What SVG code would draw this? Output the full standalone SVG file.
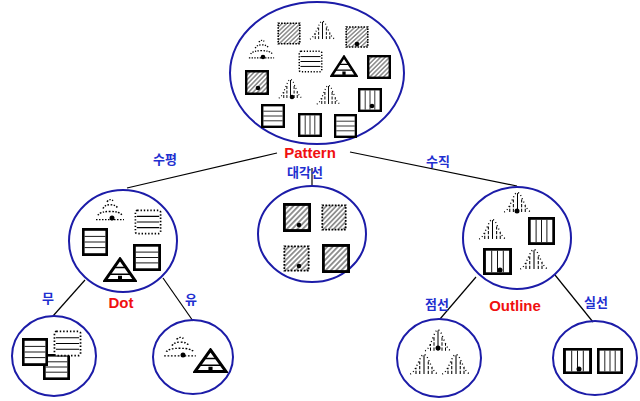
<svg xmlns="http://www.w3.org/2000/svg" xmlns:xlink="http://www.w3.org/1999/xlink" width="640" height="401" viewBox="0 0 640 401">
<style>
.node{fill:none;stroke:#1c1ca8;stroke-width:2}
.conn line{stroke:#000;stroke-width:1.2}
.lat{font-family:"Liberation Sans",Arial,sans-serif;font-weight:bold;font-size:15px;fill:#f01010;text-anchor:middle}
.kor{font-family:"Noto Sans CJK KR","Noto Sans",sans-serif;font-weight:bold;font-size:13px;fill:#1f2fd0;text-anchor:middle}
.dot{fill:#000}
</style>
<defs>
<pattern id="hatch" width="4" height="4" patternUnits="userSpaceOnUse" patternTransform="rotate(45)">
<line x1="2" y1="0" x2="2" y2="4" stroke="#333" stroke-width="1.1"/>
</pattern>
<symbol id="sqH" viewBox="0 0 30 30" preserveAspectRatio="none">
<rect x="1.5" y="1.5" width="27" height="27" fill="#fff" stroke="#000" stroke-width="3"/>
<path d="M3 9H27M3 15H27M3 21H27" stroke="#000" stroke-width="1"/>
</symbol>
<symbol id="sqV" viewBox="0 0 30 30" preserveAspectRatio="none">
<rect x="1.5" y="1.5" width="27" height="27" fill="#fff" stroke="#000" stroke-width="3"/>
<path d="M9 3V27M15 3V27M21 3V27" stroke="#000" stroke-width="1"/>
</symbol>
<symbol id="sqHatch" viewBox="0 0 30 30" preserveAspectRatio="none">
<rect x="1.5" y="1.5" width="27" height="27" fill="#fff"/>
<rect x="1.5" y="1.5" width="27" height="27" fill="url(#hatch)" stroke="#000" stroke-width="3"/>
</symbol>
<symbol id="dsqHatch" viewBox="0 0 30 30" preserveAspectRatio="none">
<rect x="1.5" y="1.5" width="27" height="27" fill="#fff"/>
<rect x="1.5" y="1.5" width="27" height="27" fill="url(#hatch)" stroke="#000" stroke-width="2" stroke-dasharray="2 1.6"/>
</symbol>
<symbol id="dRectH" viewBox="0 0 30 28" preserveAspectRatio="none">
<rect x="1.5" y="1.5" width="27" height="25" rx="2" fill="#fff" stroke="#000" stroke-width="1.8" stroke-dasharray="1.5 2"/>
<path d="M3 8H27M3 14H27M3 20H27" stroke="#000" stroke-width="1.2"/>
</symbol>
<symbol id="triH" viewBox="0 0 34 26" preserveAspectRatio="none">
<path d="M17 2L32 24.5H2Z" fill="#fff" stroke="#000" stroke-width="3"/>
<path d="M11 11H23M6.3 18H27.7" stroke="#000" stroke-width="1.5"/>
<rect x="15" y="19.5" width="4" height="4" fill="#000"/>
</symbol>
<symbol id="dTri" viewBox="0 0 30 26" preserveAspectRatio="none">
<g fill="none" stroke="#000" stroke-width="1.5" stroke-dasharray="1.5 1.5">
<path d="M12 5Q15 1 18 4"/>
<path d="M8 12Q10 8 15 8Q21 8 23 12"/>
<path d="M3 19Q5 15 15 15Q25 15 27 19"/>
<path d="M1 23.5H29"/>
</g>
</symbol>
<symbol id="bell" viewBox="0 0 30 22" preserveAspectRatio="none">
<g fill="none" stroke="#000" stroke-width="1">
<path d="M7.5 21V15M11 21V8M19 21V8M22.5 21V15" stroke-dasharray="3 1.5"/>
<path d="M15 21V3"/>
<path d="M2 21C6 20 9 11 12 5Q15 0 18 5C21 11 24 20 28 21" stroke-dasharray="1 2.4" stroke-width="1.3"/>
</g>
</symbol>
</defs>

<g id="connectors" class="conn">
<line x1="277" y1="153" x2="127" y2="188"/>
<line x1="350" y1="152" x2="517" y2="186"/>
<line x1="312" y1="168" x2="312" y2="186"/>
<line x1="85" y1="280" x2="53" y2="316"/>
<line x1="163" y1="278" x2="193" y2="321"/>
<line x1="476" y1="277" x2="440" y2="319"/>
<line x1="555" y1="275" x2="593" y2="322"/>
</g>

<g id="pattern">
<ellipse class="node" cx="317" cy="73" rx="87" ry="71"/>
<use href="#dsqHatch" x="277" y="22" width="24" height="23"/>
<use href="#bell" x="308" y="19" width="29" height="21"/>
<use href="#dsqHatch" x="345" y="26" width="24" height="22"/>
<circle class="dot" cx="357" cy="44" r="2.3"/>
<use href="#dTri" x="248" y="38" width="27" height="22"/>
<circle class="dot" cx="263" cy="57" r="2.3"/>
<use href="#dRectH" x="298" y="50" width="25" height="23"/>
<use href="#triH" x="330" y="55" width="28" height="22"/>
<use href="#sqHatch" x="367" y="55" width="24" height="24"/>
<use href="#sqHatch" x="245" y="70" width="24" height="25"/>
<circle class="dot" cx="258" cy="88" r="2.3"/>
<use href="#bell" x="277" y="77" width="27" height="22"/>
<circle class="dot" cx="292" cy="97" r="2.3"/>
<use href="#bell" x="315" y="83" width="27" height="22"/>
<use href="#sqV" x="358" y="88" width="24" height="24"/>
<circle class="dot" cx="372" cy="106" r="2.3"/>
<use href="#sqH" x="261" y="104" width="24" height="24"/>
<use href="#sqV" x="298" y="113" width="24" height="24"/>
<use href="#sqH" x="334" y="114" width="23" height="24"/>
<text class="lat" x="310" y="158">Pattern</text>
</g>

<g id="diagonal">
<ellipse class="node" cx="312" cy="234" rx="54" ry="48"/>
<use href="#sqHatch" x="283" y="203" width="28" height="29"/>
<circle class="dot" cx="299" cy="225" r="2.3"/>
<use href="#dsqHatch" x="321" y="204" width="26" height="27"/>
<use href="#dsqHatch" x="283" y="245" width="27" height="27"/>
<circle class="dot" cx="299" cy="266" r="2.3"/>
<use href="#sqHatch" x="322" y="244" width="28" height="29"/>
<text class="kor" x="305" y="177">대각선</text>
</g>

<g id="horizontal">
<ellipse class="node" cx="123" cy="241" rx="54" ry="51"/>
<use href="#dTri" x="95" y="197" width="30" height="25"/>
<circle class="dot" cx="112" cy="218" r="2.5"/>
<use href="#dRectH" x="134" y="209" width="28" height="26"/>
<use href="#sqH" x="82" y="228" width="26" height="28"/>
<use href="#sqH" x="133" y="244" width="28" height="27"/>
<use href="#triH" x="103" y="257" width="34" height="25"/>
<text class="kor" x="165" y="164">수평</text>
<text class="lat" x="121" y="308">Dot</text>
</g>

<g id="vertical">
<ellipse class="node" cx="517" cy="238" rx="54" ry="51"/>
<use href="#bell" x="502" y="190" width="31" height="23"/>
<circle class="dot" cx="517" cy="211" r="2.5"/>
<use href="#bell" x="477" y="217" width="31" height="23"/>
<use href="#sqV" x="528" y="217" width="27" height="28"/>
<use href="#sqV" x="483" y="248" width="29" height="27"/>
<circle class="dot" cx="500" cy="270" r="2.5"/>
<use href="#bell" x="518" y="247" width="32" height="23"/>
<text class="kor" x="438" y="166">수직</text>
<text class="lat" x="515" y="311">Outline</text>
</g>

<g id="no-dot">
<ellipse class="node" cx="54" cy="356" rx="42" ry="40"/>
<use href="#sqH" x="43" y="354" width="27" height="26"/>
<use href="#dRectH" x="53" y="330" width="29" height="27"/>
<use href="#sqH" x="22" y="338" width="26" height="28"/>
<text class="kor" x="48" y="303">무</text>
</g>

<g id="with-dot">
<ellipse class="node" cx="193" cy="357" rx="40" ry="37"/>
<use href="#dTri" x="163" y="335" width="34" height="23"/>
<circle class="dot" cx="183" cy="355" r="2.5"/>
<use href="#triH" x="193" y="348" width="35" height="25"/>
<text class="kor" x="191" y="304">유</text>
</g>

<g id="dashed">
<ellipse class="node" cx="439" cy="358" rx="42" ry="39"/>
<use href="#bell" x="423" y="327" width="30" height="25"/>
<circle class="dot" cx="438" cy="348" r="2.5"/>
<use href="#bell" x="408" y="352" width="32" height="23"/>
<use href="#bell" x="440" y="352" width="32" height="23"/>
<text class="kor" x="437" y="309">점선</text>
</g>

<g id="solid">
<ellipse class="node" cx="595" cy="358" rx="42" ry="37"/>
<use href="#sqV" x="563" y="348" width="29" height="26"/>
<circle class="dot" cx="579" cy="369" r="2.5"/>
<use href="#sqV" x="597" y="348" width="26" height="26"/>
<text class="kor" x="596" y="307">실선</text>
</g>
</svg>
